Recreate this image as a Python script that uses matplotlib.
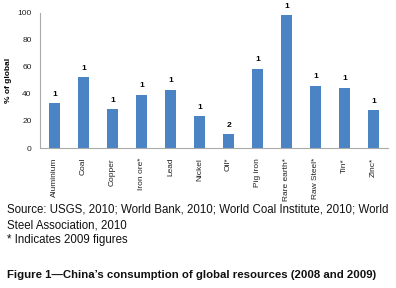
import matplotlib.pyplot as plt

plt.rcParams['font.family'] = ['Liberation Sans', 'DejaVu Sans']

resources = ['Aluminium', 'Coal', 'Copper', 'Iron ore*', 'Lead', 'Nickel', 'Oil*',
             'Pig iron', 'Rare earth*', 'Raw Steel*', 'Tin*', 'Zinc*']
share = [33, 52.5, 28.5, 39.5, 43, 23.5, 10.3, 58.7, 98, 46, 44.5, 27.8]
rank = ['1', '1', '1', '1', '1', '1', '2', '1', '1', '1', '1', '1']

fig = plt.figure(figsize=(3.96, 2.88), dpi=100)
ax = fig.add_axes([0.101, 0.486, 0.879, 0.470])

x = range(len(resources))
bars = ax.bar(x, share, width=0.4, color='#4a84c4')
for b, r in zip(bars, rank):
    ax.text(b.get_x() + b.get_width() / 2, b.get_height() + 4, r,
            ha='center', va='bottom', fontsize=6, fontweight='bold')

ax.set_xlim(-0.5, 11.5)
ax.set_ylim(0, 100)
ax.set_yticks([0, 20, 40, 60, 80, 100])
ax.set_xticks(list(x))
ax.set_xticklabels(resources, rotation=90, fontsize=6)
ax.tick_params(axis='both', length=0, labelsize=6, colors='#222222')
ax.tick_params(axis='x', pad=7)
ax.tick_params(axis='y', pad=6)
ax.set_ylabel('% of global', fontsize=6, fontweight='bold', labelpad=4)
for s in ['top', 'right']:
    ax.spines[s].set_visible(False)
for s in ['left', 'bottom']:
    ax.spines[s].set_color('#aaaaaa')
    ax.spines[s].set_linewidth(0.8)

fig.text(7 / 396, 1 - 210 / 288,
         'Source: USGS, 2010; World Bank, 2010; World Coal Institute, 2010; World',
         fontsize=8.3, va='center', ha='left', color='#111111')
fig.text(7 / 396, 1 - 225 / 288, 'Steel Association, 2010',
         fontsize=8.3, va='center', ha='left', color='#111111')
fig.text(7 / 396, 1 - 240 / 288, '* Indicates 2009 figures',
         fontsize=8.3, va='center', ha='left', color='#111111')
fig.text(7 / 396, 1 - 275 / 288,
         'Figure 1\u2014China\u2019s consumption of global resources (2008 and 2009)',
         fontsize=8.2, fontweight='bold', va='center', ha='left', color='#111111')

fig.savefig('out.png', dpi=100)
